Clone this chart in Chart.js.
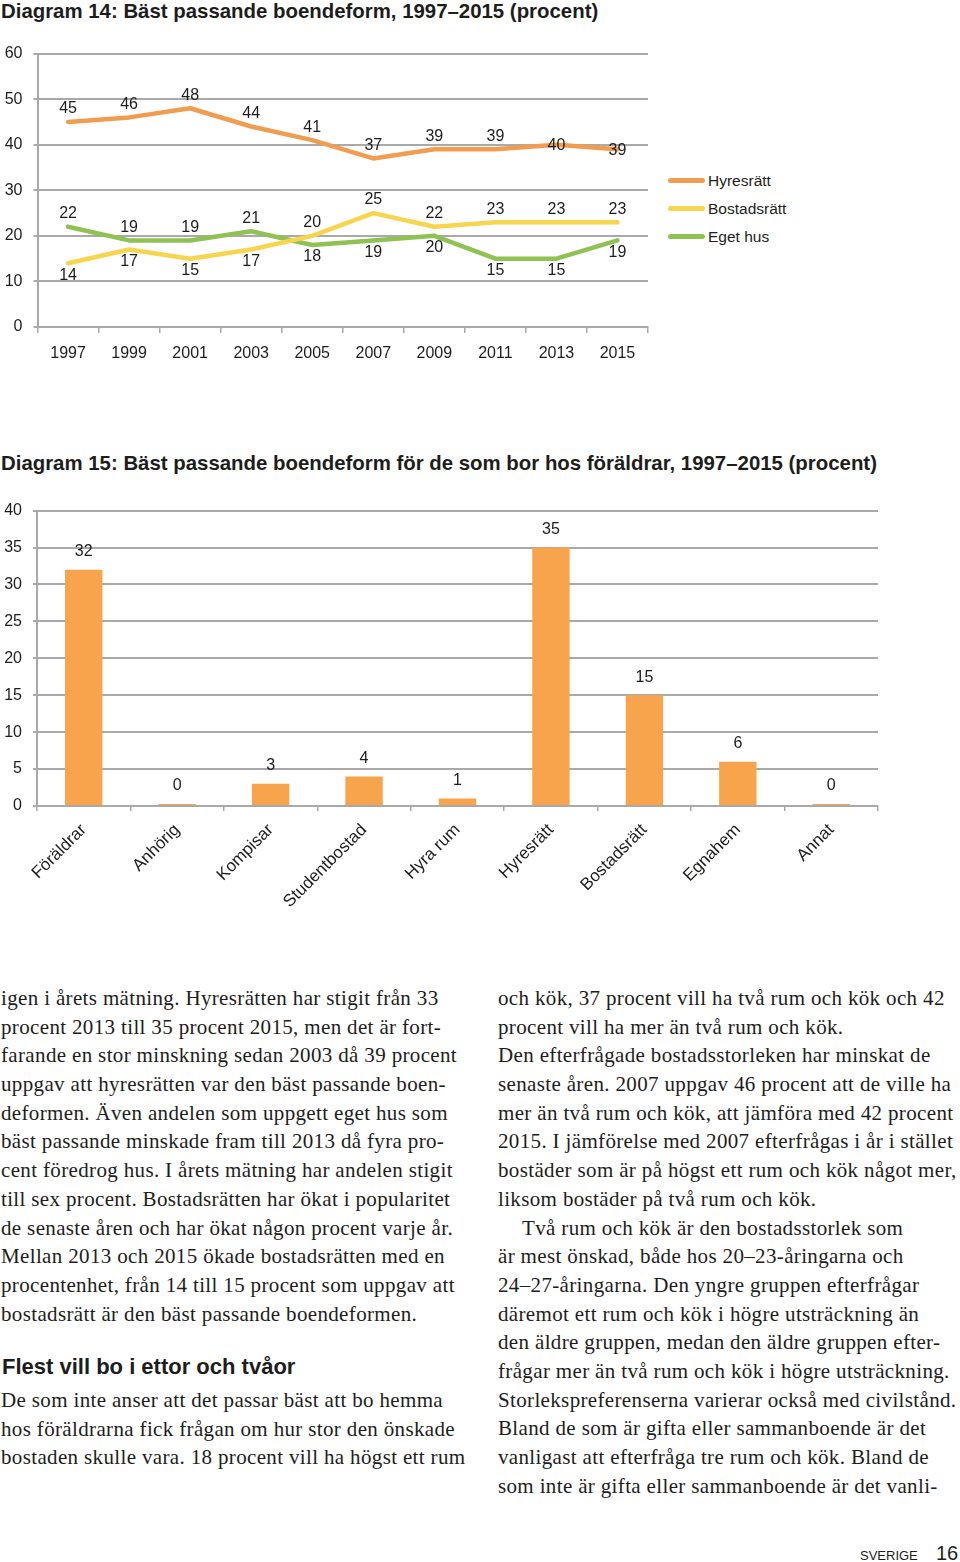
<!DOCTYPE html>
<html lang="sv">
<head>
<meta charset="utf-8">
<title>Bäst passande boendeform</title>
<script src="https://cdn.jsdelivr.net/npm/chart.js@4.4.1/dist/chart.umd.min.js"></script>
<style>
  html, body { margin: 0; padding: 0; background: #fff; }
  body { width: 960px; height: 1562px; position: relative; overflow: hidden; color: #1d1d1b; }
  .title { position: absolute; left: 1px; font: bold 20.4px "Liberation Sans", Arial, sans-serif; white-space: nowrap; }
  canvas { position: absolute; left: 0; }
  #legend { position: absolute; left: 668px; top: 170px; font: 15.5px "Liberation Sans", Arial, sans-serif; }
  #legend div { height: 28px; line-height: 22px; white-space: nowrap; }
  #legend span { display: inline-block; width: 37px; height: 5px; border-radius: 3px; vertical-align: middle; margin-right: 3px; position: relative; top: -1px; }
  .col { position: absolute; font: 21px "Liberation Serif", "Times New Roman", serif; letter-spacing: 0.35px; line-height: 28.7px; white-space: nowrap; }
  .col div { height: 28.7px; }
  .indent { padding-left: 24px; }
  .head { position: absolute; left: 2px; top: 1354px; font: bold 22px "Liberation Sans", Arial, sans-serif; }
  .foot1 { position: absolute; left: 860px; top: 1548px; font: 13px "Liberation Sans", Arial, sans-serif; }
  .foot2 { position: absolute; left: 936px; top: 1542px; font: 20px "Liberation Sans", Arial, sans-serif; }
</style>
</head>
<body>

<div class="title" style="top:0px">Diagram 14: Bäst passande boendeform, 1997–2015 (procent)</div>
<canvas id="linjer" width="660" height="347" style="top:33px"></canvas>
<div id="legend"></div>

<div class="title" style="top:452px">Diagram 15: Bäst passande boendeform för de som bor hos föräldrar, 1997–2015 (procent)</div>
<canvas id="staplar" width="890" height="430" style="top:490px"></canvas>

<div class="col" style="left:1px; top:984px">
  <div>igen i årets mätning. Hyresrätten har stigit från 33</div>
  <div>procent 2013 till 35 procent 2015, men det är fort-</div>
  <div>farande en stor minskning sedan 2003 då 39 procent</div>
  <div>uppgav att hyresrätten var den bäst passande boen-</div>
  <div>deformen. Även andelen som uppgett eget hus som</div>
  <div>bäst passande minskade fram till 2013 då fyra pro-</div>
  <div>cent föredrog hus. I årets mätning har andelen stigit</div>
  <div>till sex procent. Bostadsrätten har ökat i popularitet</div>
  <div>de senaste åren och har ökat någon procent varje år.</div>
  <div>Mellan 2013 och 2015 ökade bostadsrätten med en</div>
  <div>procentenhet, från 14 till 15 procent som uppgav att</div>
  <div>bostadsrätt är den bäst passande boendeformen.</div>
</div>
<div class="head">Flest vill bo i ettor och tvåor</div>
<div class="col" style="left:1px; top:1386px">
  <div>De som inte anser att det passar bäst att bo hemma</div>
  <div>hos föräldrarna fick frågan om hur stor den önskade</div>
  <div>bostaden skulle vara. 18 procent vill ha högst ett rum</div>
</div>

<div class="col" style="left:498px; top:984px">
  <div>och kök, 37 procent vill ha två rum och kök och 42</div>
  <div>procent vill ha mer än två rum och kök.</div>
  <div>Den efterfrågade bostadsstorleken har minskat de</div>
  <div>senaste åren. 2007 uppgav 46 procent att de ville ha</div>
  <div>mer än två rum och kök, att jämföra med 42 procent</div>
  <div>2015. I jämförelse med 2007 efterfrågas i år i stället</div>
  <div>bostäder som är på högst ett rum och kök något mer,</div>
  <div>liksom bostäder på två rum och kök.</div>
  <div class="indent">Två rum och kök är den bostadsstorlek som</div>
  <div>är mest önskad, både hos 20–23-åringarna och</div>
  <div>24–27-åringarna. Den yngre gruppen efterfrågar</div>
  <div>däremot ett rum och kök i högre utsträckning än</div>
  <div>den äldre gruppen, medan den äldre gruppen efter-</div>
  <div>frågar mer än två rum och kök i högre utsträckning.</div>
  <div>Storlekspreferenserna varierar också med civilstånd.</div>
  <div>Bland de som är gifta eller sammanboende är det</div>
  <div>vanligast att efterfråga tre rum och kök. Bland de</div>
  <div>som inte är gifta eller sammanboende är det vanli-</div>
</div>

<div class="foot1">SVERIGE</div>
<div class="foot2">16</div>

<script>
// Diagram 14
const years = ['1997', '1999', '2001', '2003', '2005', '2007', '2009', '2011', '2013', '2015'];
const hyresratt = [45, 46, 48, 44, 41, 37, 39, 39, 40, 39];
const bostadsratt = [14, 17, 15, 17, 20, 25, 22, 23, 23, 23];
const egetHus = [22, 19, 19, 21, 18, 19, 20, 15, 15, 19];
const seriesNames = ['Hyresrätt', 'Bostadsrätt', 'Eget hus'];
const seriesColors = ['#f19d51', '#f8d54e', '#8fc253'];

// where each value label sits: a = above, b = below, c = on the line
const hyresrattLabelPos = ['a', 'a', 'a', 'a', 'a', 'a', 'a', 'a', 'c', 'c'];
const bostadsrattLabelPos = ['b', 'b', 'b', 'b', 'a', 'a', 'a', 'a', 'a', 'a'];
const egetHusLabelPos = ['a', 'a', 'a', 'a', 'b', 'b', 'b', 'b', 'b', 'b'];

// Diagram 15
const boendeformer = ['Föräldrar', 'Anhörig', 'Kompisar', 'Studentbostad', 'Hyra rum', 'Hyresrätt', 'Bostadsrätt', 'Egnahem', 'Annat'];
const andel = [32, 0, 3, 4, 1, 35, 15, 6, 0];

const FONT = '"Liberation Sans", Arial, sans-serif';
const GRID = '#a9a9a9';
const INK = '#1d1d1b';

Chart.defaults.font.family = FONT;
Chart.defaults.font.size = 16;
Chart.defaults.color = INK;

const valueLabels = {
    id: 'valueLabels',
    afterDatasetsDraw(chart, args, opts) {
        const ctx = chart.ctx;
        ctx.save();
        ctx.font = '16px ' + FONT;
        ctx.fillStyle = INK;
        ctx.textAlign = 'center';
        ctx.textBaseline = 'middle';
        chart.data.datasets.forEach((ds, di) => {
            const meta = chart.getDatasetMeta(di);
            meta.data.forEach((el, i) => {
                const pos = ds.labelPos ? ds.labelPos[i] : 'a';
                const dy = pos === 'b' ? opts.below : pos === 'c' ? 1 : opts.above;
                ctx.fillText(String(ds.data[i]), el.x, el.y + dy);
            });
        });
        ctx.restore();
    }
};

const lineData = [hyresratt, bostadsratt, egetHus];
const labelPos = [hyresrattLabelPos, bostadsrattLabelPos, egetHusLabelPos];

new Chart(document.getElementById('linjer'), {
    type: 'line',
    data: {
        labels: years,
        datasets: seriesNames.map((name, i) => ({
            label: name,
            data: lineData[i],
            labelPos: labelPos[i],
            borderColor: seriesColors[i],
            borderWidth: 4.5,
            borderCapStyle: 'round',
            borderJoinStyle: 'round',
            pointRadius: 0,
            tension: 0
        }))
    },
    options: {
        responsive: false,
        animation: false,
        layout: { padding: { top: 4, right: 12, left: 0, bottom: 0 } },
        plugins: {
            legend: { display: false },
            tooltip: { enabled: false },
            valueLabels: { above: -13, below: 12 }
        },
        scales: {
            x: {
                offset: true,
                grid: { offset: true, drawOnChartArea: false, color: GRID, lineWidth: 1.5, tickLength: 6 },
                border: { color: GRID, width: 2 },
                ticks: { padding: 11, maxRotation: 0 },
                afterFit(scale) { scale.height = 53; }
            },
            y: {
                min: 0,
                max: 60,
                ticks: { stepSize: 10, padding: 11 },
                grid: { color: GRID, lineWidth: 2, tickLength: 4 },
                border: { color: GRID, width: 2 },
                afterFit(scale) { scale.width = 37.5; }
            }
        }
    },
    plugins: [valueLabels]
});

const legend = document.getElementById('legend');
seriesNames.forEach((name, i) => {
    const row = document.createElement('div');
    const sw = document.createElement('span');
    sw.style.background = seriesColors[i];
    row.appendChild(sw);
    row.appendChild(document.createTextNode(name));
    legend.appendChild(row);
});

new Chart(document.getElementById('staplar'), {
    type: 'bar',
    data: {
        labels: boendeformer,
        datasets: [{
            label: 'Andel',
            data: andel,
            backgroundColor: '#f8a44c',
            barPercentage: 0.4,
            categoryPercentage: 1,
            minBarLength: 2
        }]
    },
    options: {
        responsive: false,
        animation: false,
        layout: { padding: { top: 4, right: 12, left: 0, bottom: 0 } },
        plugins: {
            legend: { display: false },
            tooltip: { enabled: false },
            valueLabels: { above: -18, below: 12 }
        },
        scales: {
            x: {
                grid: { offset: true, drawOnChartArea: false, color: GRID, lineWidth: 1.5, tickLength: 5 },
                border: { color: GRID, width: 2 },
                ticks: { minRotation: 45, maxRotation: 45, padding: 9, font: { size: 17 } },
                afterFit(scale) { scale.height = 114; }
            },
            y: {
                min: 0,
                max: 40,
                ticks: { stepSize: 5, padding: 11 },
                grid: { color: GRID, lineWidth: 2, tickLength: 4 },
                border: { color: GRID, width: 2 },
                afterFit(scale) { scale.width = 37; }
            }
        }
    },
    plugins: [valueLabels]
});
</script>
</body>
</html>
